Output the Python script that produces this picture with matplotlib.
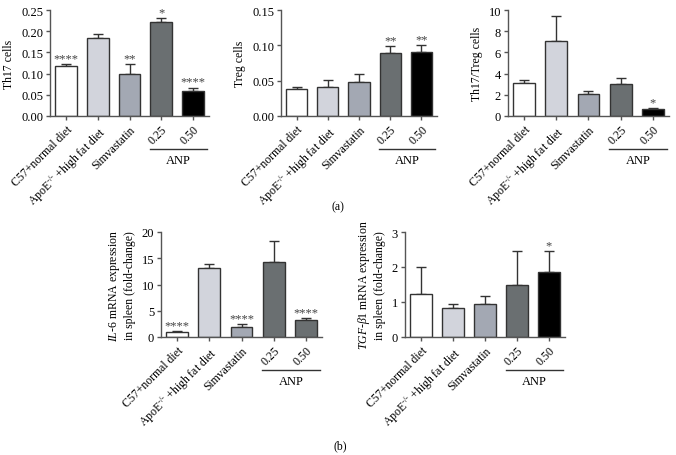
import matplotlib
matplotlib.use("Agg")
import matplotlib.pyplot as plt
import matplotlib.transforms as mtransforms

plt.rcParams['font.family'] = ['Liberation Serif', 'DejaVu Serif']
plt.rcParams['mathtext.fontset'] = 'custom'
plt.rcParams['mathtext.rm'] = 'Liberation Serif'
plt.rcParams['mathtext.it'] = 'Liberation Serif:italic'
plt.rcParams['mathtext.bf'] = 'Liberation Serif:bold'

groups = ["C57+normal diet", r"ApoE$^{\text{-/-}}$ +high fat diet", "Simvastatin", "0.25", "0.50"]

th17 = [0.118, 0.185, 0.100, 0.222, 0.059]
th17_err = [0.005, 0.009, 0.022, 0.008, 0.008]
th17_sig = ["****", "", "**", "*", "****"]

treg = [0.0388, 0.0416, 0.0487, 0.0885, 0.091]
treg_err = [0.0019, 0.009, 0.0103, 0.0105, 0.009]
treg_sig = ["", "", "", "**", "**"]

ratio = [3.14, 7.07, 2.04, 3.02, 0.63]
ratio_err = [0.26, 2.36, 0.32, 0.56, 0.09]
ratio_sig = ["", "", "", "", "*"]

il6 = [0.95, 13.06, 1.9, 14.3, 3.15]
il6_err = [0.15, 0.84, 0.6, 3.9, 0.45]
il6_sig = ["****", "", "****", "", "****"]

tgf = [1.23, 0.84, 0.93, 1.50, 1.85]
tgf_err = [0.76, 0.10, 0.23, 0.95, 0.60]
tgf_sig = ["", "", "", "", "*"]

colors_a = ["#ffffff", "#d2d4dc", "#a3a8b3", "#6a6f71", "#000000"]
colors_il6 = ["#ffffff", "#d2d4dc", "#a3a8b3", "#6a6f71", "#6a6f71"]

W, H = 676, 456
fig = plt.figure(figsize=(W / 100, H / 100), dpi=100)


def make_axes(left, right, top, bottom):
    return fig.add_axes([left / W, 1 - bottom / H, (right - left) / W, (bottom - top) / H])


def draw_panel(ax, vals, errs, sigs, colors, ylim, yticks, yfmt, ylabel, ylabel_pad=4):
    x = range(len(vals))
    ax.bar(x, vals, width=0.68, color=colors, edgecolor="#333333", linewidth=1.0, zorder=2)
    ax.errorbar(x, vals, yerr=[[0] * len(errs), errs], fmt="none", ecolor="#333333",
                elinewidth=1.0, capsize=3.5, capthick=1.0, zorder=1)
    for i, s in enumerate(sigs):
        if s:
            ax.annotate(s, (i, vals[i] + errs[i]), xytext=(0, 0), textcoords="offset points",
                        ha="center", va="bottom", fontsize=9, color="#444444")
    ax.set_xlim(-0.5, len(vals) - 0.5)
    ax.set_ylim(*ylim)
    ax.set_yticks(yticks)
    ax.set_yticklabels([yfmt.format(t) for t in yticks])
    ax.set_xticks(list(x))
    ax.set_xticklabels(groups, rotation=45, ha="right", rotation_mode="anchor")
    for sp in ["top", "right"]:
        ax.spines[sp].set_visible(False)
    for sp in ["left", "bottom"]:
        ax.spines[sp].set_color("#555555")
        ax.spines[sp].set_linewidth(1.0)
    ax.tick_params(axis="both", direction="out", length=3, width=1, color="#555555", pad=2)
    ax.tick_params(axis="y", labelsize=9)
    ax.tick_params(axis="x", labelsize=8.5)
    ax.set_ylabel(ylabel, fontsize=8.5, labelpad=ylabel_pad)
    # ANP group line under the two dose labels
    trans = mtransforms.blended_transform_factory(ax.transData, ax.transAxes)
    ax.plot([2.65, 4.45], [-0.31, -0.31], color="#333333", lw=1.0, transform=trans, clip_on=False)
    ax.text(3.55, -0.36, "ANP", transform=trans, ha="center", va="top", fontsize=9)


ax1 = make_axes(50, 209, 11, 117)
draw_panel(ax1, th17, th17_err, th17_sig, colors_a, (0, 0.25),
           [0, 0.05, 0.10, 0.15, 0.20, 0.25], "{:.2f}", "Th17 cells")

ax2 = make_axes(281, 437, 11, 117)
draw_panel(ax2, treg, treg_err, treg_sig, colors_a, (0, 0.15),
           [0, 0.05, 0.10, 0.15], "{:.2f}", "Treg cells")

ax3 = make_axes(508, 669, 11, 117)
draw_panel(ax3, ratio, ratio_err, ratio_sig, colors_a, (0, 10),
           [0, 2, 4, 6, 8, 10], "{:.0f}", "Th17/Treg cells")

ax4 = make_axes(161, 322, 233, 338)
draw_panel(ax4, il6, il6_err, il6_sig, colors_il6, (0, 20),
           [0, 5, 10, 15, 20], "{:.0f}",
           r"$\mathit{IL}$-$\mathit{6}$ mRNA expression" + "\nin spleen (fold-change)")

ax5 = make_axes(405, 565, 233, 338)
draw_panel(ax5, tgf, tgf_err, tgf_sig, colors_a, (0, 3),
           [0, 1, 2, 3], "{:.0f}",
           r"$\mathit{TGF}$-$\mathit{\beta 1}$ mRNA expression" + "\nin spleen (fold-change)")

fig.text(338 / W, 1 - 207 / H, "(a)", ha="center", va="center", fontsize=8.5)
fig.text(340 / W, 1 - 446 / H, "(b)", ha="center", va="center", fontsize=8.5)

fig.savefig("out.png", dpi=100)
